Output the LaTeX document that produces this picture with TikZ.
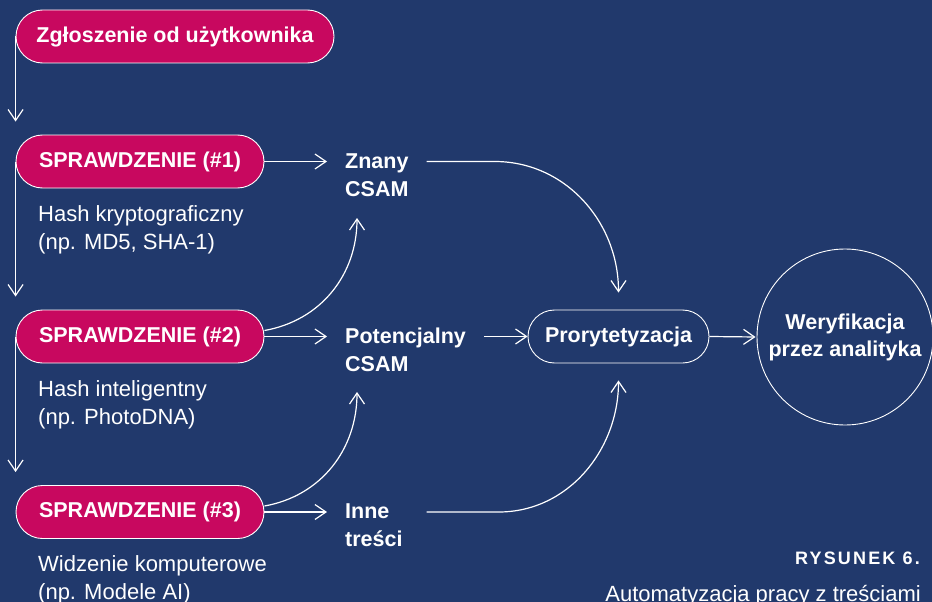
\documentclass[tikz,border=0pt]{standalone}
\usepackage{fontspec}
\setmainfont{Liberation Sans}
\newfontfamily\spacedfont[LetterSpace=12]{Liberation Sans}
\usetikzlibrary{arrows.meta}
\definecolor{bgblue}{RGB}{33,57,108}
\definecolor{pillred}{RGB}{200,8,95}
\tikzset{
  arr/.style={draw=white, line width=1.2pt, -{Straight Barb[length=11pt,width=15pt]}},
  pill/.style={draw=white, line width=0.9pt, fill=pillred, rounded corners=26.5pt, minimum height=53pt, inner sep=0pt, text=white, font=\fontsize{21.5}{28}\selectfont\bfseries},
  outpill/.style={pill, fill=bgblue},
  res/.style={text=white, align=left, inner ysep=0pt, inner xsep=18pt, font=\fontsize{21.5}{28}\selectfont\bfseries},
  desc/.style={text=white, align=left, inner sep=0pt, font=\fontsize{22}{28}\selectfont},
}

\begin{document}
\begin{tikzpicture}[x=1pt,y=-1pt]
  \fill[bgblue] (0,0) rectangle (932,602);
  \useasboundingbox (0,0) rectangle (932,602);
  \node[pill, minimum width=318pt] (zg) at (175,36.5) {Zgłoszenie od użytkownika};
  \node[pill, minimum width=248pt] (sp1) at (140,161.5) {SPRAWDZENIE (\#1)};
  \node[pill, minimum width=248pt] (sp2) at (140,336.5) {SPRAWDZENIE (\#2)};
  \node[pill, minimum width=248pt] (sp3) at (140,512) {SPRAWDZENIE (\#3)};
  \node[desc, anchor=west] (d1) at (38,230) {Hash kryptograficzny\\(np. MD5, SHA-1)};
  \node[desc, anchor=west] (d2) at (38,405) {Hash inteligentny\\(np. PhotoDNA)};
  \node[desc, anchor=west] (d3) at (38,580) {Widzenie komputerowe\\(np. Modele AI)};
  \node[res, anchor=west] (znany) at (327,175) {Znany\\CSAM};
  \node[res, anchor=west] (pot) at (327,350) {Potencjalny\\CSAM};
  \node[res, anchor=west] (inne) at (327,525) {Inne\\treści};
  \node[outpill, minimum width=181pt] (prio) at (618.5,336.5) {Prorytetyzacja};
  \node[circle, draw=white, line width=0.9pt, minimum size=176pt, inner sep=0pt, align=center, text=white,
    font=\fontsize{21.5}{27}\selectfont\bfseries] (wer) at (845,337) {Weryfikacja\\przez analityka};
  \node[text=white, anchor=base east, inner sep=0pt, font=\fontsize{18}{18}\spacedfont\bfseries] (rys) at (920,564) {RYSUNEK 6.};
  \node[desc, anchor=base east] (cap) at (921,601) {Automatyzacja pracy z treściami};
  \coordinate (in1) at (357,218);
  \coordinate (in2) at (357,392);
  \draw[arr] (zg.west) -- ([yshift=13pt]zg.west |- sp1.north);
  \draw[arr] (sp1.west) -- ([yshift=13pt]sp1.west |- sp2.north);
  \draw[arr] (sp2.west) -- ([yshift=13pt]sp2.west |- sp3.north);
  \draw[arr] (sp1.east) -- (sp1.east -| znany.west);
  \draw[arr] (sp2.east) -- (sp2.east -| pot.west);
  \draw[arr] (sp3.east) -- (sp3.east -| inne.west);
  \draw[arr] ([yshift=6pt]sp2.east) to[out=10,in=-90] (in1);
  \draw[arr] ([yshift=6pt]sp3.east) to[out=10,in=-90] (in2);
  \draw[arr] (sp1.east -| znany.east) -- ++(68,0) to[out=0,in=90] ([yshift=17pt]prio.north);
  \draw[arr] (sp3.east -| znany.east) -- ++(72,0) to[out=0,in=-90] ([yshift=-17pt]prio.south);
  \draw[arr] (pot.east |- prio.west) -- (prio.west);
  \draw[arr, shorten >=1pt] (prio.east) -- (wer.west);
\end{tikzpicture}
\end{document}
